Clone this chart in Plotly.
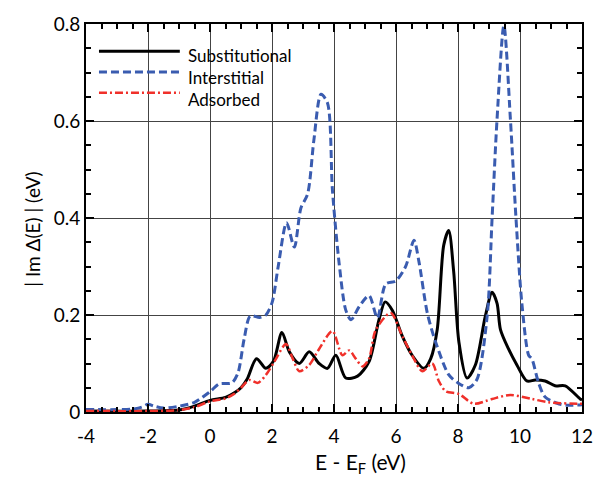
import plotly.graph_objects as go

# Substitutional
sub_x = [-4, -2, -1, -0.5, 0, 0.5, 0.8, 1.0, 1.2, 1.5, 1.8, 2.05, 2.32, 2.56, 2.88, 3.2, 3.52, 3.79,
         4.06, 4.38, 4.76, 5.13, 5.45, 5.65, 5.88, 6.2, 6.52, 6.9, 7.12, 7.33, 7.54, 7.70, 7.86, 8.03,
         8.29, 8.56, 8.88, 9.1, 9.26, 9.37, 9.63, 9.9, 10.22, 10.49, 10.81, 11.13, 11.46, 11.94, 12]
sub_y = [0.002, 0.002, 0.004, 0.012, 0.024, 0.03, 0.04, 0.05, 0.068, 0.11, 0.09, 0.105, 0.164, 0.124,
         0.10, 0.124, 0.10, 0.09, 0.117, 0.07, 0.074, 0.104, 0.19, 0.227, 0.21, 0.157, 0.117, 0.09,
         0.11, 0.17, 0.344, 0.374, 0.29, 0.144, 0.07, 0.097, 0.197, 0.247, 0.224, 0.17, 0.13, 0.097,
         0.064, 0.066, 0.064, 0.054, 0.054, 0.027, 0.025]

# Interstitial
int_x = [-4, -3, -2.5, -2.2, -2.0, -1.8, -1.5, -1.0, -0.5, 0.0, 0.3, 0.7, 0.9, 1.1, 1.3, 1.6, 1.8, 2.0,
         2.2, 2.47, 2.72, 2.93, 3.15, 3.35, 3.58, 3.79, 3.95, 4.17, 4.38, 4.55, 4.81, 5.13, 5.40, 5.67,
         5.99, 6.31, 6.58, 6.74, 7.01, 7.28, 7.70, 8.0, 8.35, 8.61, 8.94, 9.10, 9.26, 9.48, 9.69, 9.87,
         10.06, 10.28, 10.38, 10.6, 10.81, 11.2, 11.5, 12.0]
int_y = [0.005, 0.005, 0.006, 0.01, 0.016, 0.012, 0.008, 0.012, 0.02, 0.042, 0.058, 0.06, 0.08, 0.15,
         0.198, 0.195, 0.2, 0.225, 0.3, 0.39, 0.34, 0.42, 0.45, 0.56, 0.655, 0.637, 0.457, 0.304, 0.21,
         0.19, 0.217, 0.24, 0.194, 0.264, 0.27, 0.30, 0.354, 0.31, 0.204, 0.144, 0.077, 0.06, 0.05,
         0.067, 0.197, 0.40, 0.604, 0.797, 0.604, 0.40, 0.224, 0.117, 0.11, 0.06, 0.031, 0.018, 0.014,
         0.015]

# Adsorbed
ads_x = [-4, -2, -1, -0.5, 0, 0.5, 0.8, 1.0, 1.27, 1.54, 1.81, 2.08, 2.45, 2.67, 2.88, 3.2, 3.52, 3.95,
         4.27, 4.49, 4.7, 4.92, 5.13, 5.35, 5.83, 6.2, 6.52, 6.85, 7.17, 7.38, 7.60, 8.03, 8.51, 9.1,
         9.69, 10.38, 10.92, 11.9, 12]
ads_y = [0.002, 0.002, 0.004, 0.01, 0.022, 0.028, 0.038, 0.05, 0.066, 0.06, 0.077, 0.104, 0.14, 0.11,
         0.084, 0.097, 0.13, 0.167, 0.117, 0.127, 0.11, 0.094, 0.11, 0.17, 0.204, 0.157, 0.117, 0.084,
         0.10, 0.064, 0.043, 0.037, 0.017, 0.027, 0.035, 0.027, 0.02, 0.017, 0.017]

x_ticks = [-4, -2, 0, 2, 4, 6, 8, 10, 12]
y_ticks = [0, 0.2, 0.4, 0.6, 0.8]
y_tick_labels = ["0", "0.2", "0.4", "0.6", "0.8"]

series_names = ["Substitutional", "Interstitial", "Adsorbed"]
series_colors = ["black", "#3a5cb0", "#f0302a"]
series_dash = ["solid", "8px,4px", "8px,3px,2px,3px"]
series_width = [3, 3, 2.5]

FONT = "Lato, 'Open Sans', sans-serif"

fig = go.Figure()
for name, xs, ys, c, d, w in zip(series_names, [sub_x, int_x, ads_x], [sub_y, int_y, ads_y],
                                 series_colors, series_dash, series_width):
    fig.add_trace(go.Scatter(x=xs, y=ys, mode="lines", name=name, showlegend=False,
                             line=dict(color=c, width=w, dash=d, shape="spline", smoothing=0.8)))

axis_common = dict(
    showline=True, linecolor="black", linewidth=2, mirror="ticks",
    ticks="inside", tickcolor="black", tickwidth=2, ticklen=8,
    showgrid=True, gridcolor="#444", gridwidth=1, zeroline=False,
    tickfont=dict(family=FONT, size=19, color="black"),
)

fig.update_xaxes(range=[-4, 12], tickvals=x_ticks, ticktext=[str(v) for v in x_ticks],
                 ticklabelstandoff=6,
                 minor=dict(dtick=0.5, ticks="inside", ticklen=5, tickwidth=1.5, tickcolor="black", showgrid=False),
                 **axis_common)
fig.update_yaxes(range=[0, 0.8], tickvals=y_ticks, ticktext=y_tick_labels,
                 minor=dict(dtick=0.05, ticks="inside", ticklen=5, tickwidth=1.5, tickcolor="black", showgrid=False),
                 **axis_common)

# Manual legend (paper coordinates): line samples + one multi-line text block
leg_px = [40, 61.5, 83]
for c, d, w, py in zip(series_colors, series_dash, series_width, leg_px):
    yy = (412 - py) / 400
    fig.add_shape(type="line", xref="paper", yref="paper", x0=(99 - 86) / 497, x1=(180 - 86) / 497,
                  y0=yy, y1=yy, line=dict(color=c, width=w, dash=d))
fig.add_annotation(xref="paper", yref="paper", x=(187 - 86) / 497, y=(412 - 33) / 400,
                   text="<br>".join(series_names), showarrow=False, align="left",
                   xanchor="left", yanchor="top", borderpad=0,
                   font=dict(family=FONT, size=17, color="black"))

# Axis titles
fig.add_annotation(xref="paper", yref="paper", x=(361 - 86) / 497, y=(412 - 465) / 400,
                   text="E - E<sub>F</sub> (eV)", showarrow=False, xanchor="center", yanchor="middle",
                   font=dict(family=FONT, size=21, color="black"))
fig.add_annotation(xref="paper", yref="paper", x=(33 - 86) / 497, y=(412 - 224) / 400,
                   text="| Im Δ(E) | (eV)", showarrow=False, xanchor="center", yanchor="middle",
                   textangle=-90, font=dict(family=FONT, size=19, color="black"))

fig.update_layout(
    width=605, height=485,
    margin=dict(l=86, r=22, t=12, b=73),
    paper_bgcolor="white", plot_bgcolor="white",
    showlegend=False,
    font=dict(family=FONT),
)

fig.write_html("out.html")
